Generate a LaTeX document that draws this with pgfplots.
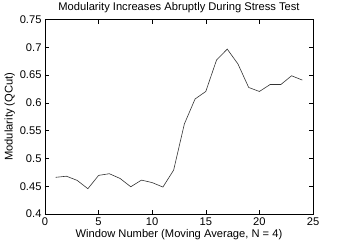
\documentclass[border=0pt]{standalone}
\usepackage{pgfplots}
\pgfplotsset{compat=1.18}
\usepackage{fontspec}
\setmainfont{Liberation Sans}
\begin{document}
\begin{tikzpicture}
\path[use as bounding box] (-45bp,-31bp) rectangle (301bp,214bp);
\begin{axis}[
  at={(0,0)}, anchor=south west,
  scale only axis,
  width=268bp, height=194.5bp,
  xmin=0, xmax=25, ymin=0.4, ymax=0.75,
  xtick={0,5,10,15,20,25},
  ytick={0.4,0.45,0.5,0.55,0.6,0.65,0.7,0.75},
  yticklabels={0.4,0.45,0.5,0.55,0.6,0.65,0.7,0.75},
  tick align=inside,
  major tick length=4bp,
  /pgf/number format/assume math mode=true,
  tick label style={font=\fontsize{11.2}{13}\selectfont},
  label style={font=\fontsize{11.2}{13}\selectfont},
  title style={font=\fontsize{11.2}{13}\selectfont, yshift=-3bp},
  title={Modularity Increases Abruptly During Stress Test},
  xlabel={Window Number (Moving Average, N = 4)},
  ylabel={Modularity (QCut)},
  xlabel style={yshift=3bp},
  ylabel style={yshift=-2bp},
  axis line style={black, line width=0.5pt},
  every tick/.style={black, line width=0.5pt},
]
\addplot[color=black!80, line width=0.6pt] coordinates {
(1,0.466) (2,0.468) (3,0.4605) (4,0.4455) (5,0.4695) (6,0.4725)
(7,0.464) (8,0.449) (9,0.461) (10,0.4565) (11,0.4485) (12,0.479)
(13,0.562) (14,0.607) (15,0.6205) (16,0.677) (17,0.6967) (18,0.670)
(19,0.6277) (20,0.6205) (21,0.633) (22,0.633) (23,0.6487) (24,0.641)
};
\end{axis}
\end{tikzpicture}
\end{document}
